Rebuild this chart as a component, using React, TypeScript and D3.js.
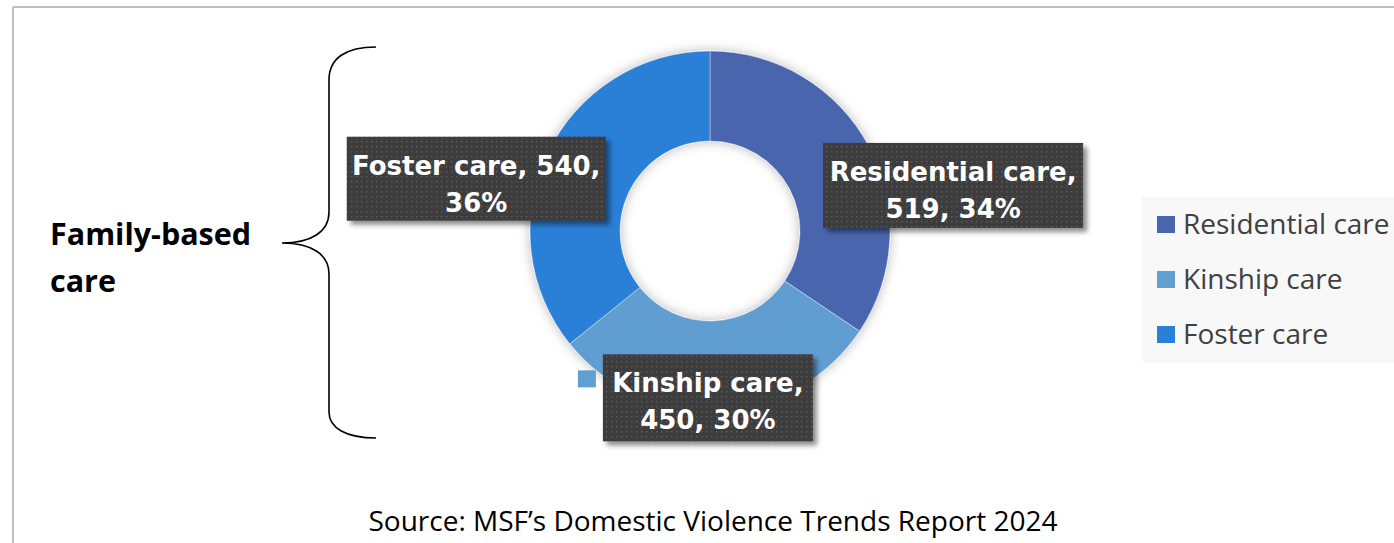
import React from "react";
import * as d3 from "d3";

const categories = ["Residential care", "Kinship care", "Foster care"];
const values = [519, 450, 540];
const colors = ["#4865ad", "#619ed2", "#2a7fd6"];
// number of words on the first line of each data label
const labelBreaks = [2, 2, 3];
const sideLabel = ["Family-based", "care"];
const sourceText = "Source: MSF\u2019s Domestic Violence Trends Report 2024";

const W = 1394;
const H = 543;
const cx = 710;
const cy = 231;
const outerR = 180;
const innerR = 90;
// label box layout (offset from slice centroid, box size)
const labelLayout = [
  { dx: 124, dy: 18, w: 260, h: 85 },
  { dx: -8, dy: 32, w: 210, h: 87 },
  { dx: -112, dy: 6, w: 259, h: 84 },
];

export default function App() {
  const total = d3.sum(values);
  const pie = d3
    .pie<number>()
    .sort(null)
    .value((d) => d)
    .startAngle(0)
    .endAngle(Math.PI * 2);
  const arcs = pie(values);
  const arc = d3.arc<d3.PieArcDatum<number>>().innerRadius(innerR).outerRadius(outerR);
  const mid = d3
    .arc<d3.PieArcDatum<number>>()
    .innerRadius((innerR + outerR) / 2)
    .outerRadius((innerR + outerR) / 2);

  const legendX = 1142;
  const legendY = 197;

  return (
    <svg
      width={W}
      height={H}
      style={{ position: "absolute", left: 0, top: 0, background: "#fff" }}
    >
      <defs>
        <filter id="donutShadow" x="-30%" y="-30%" width="160%" height="160%">
          <feGaussianBlur in="SourceAlpha" stdDeviation="6" />
          <feOffset dx="0" dy="0" result="b" />
          <feFlood floodColor="#000" floodOpacity="0.28" />
          <feComposite in2="b" operator="in" result="s" />
          <feMerge>
            <feMergeNode in="s" />
            <feMergeNode in="SourceGraphic" />
          </feMerge>
        </filter>
        <filter id="boxShadow" x="-20%" y="-20%" width="140%" height="150%">
          <feGaussianBlur in="SourceAlpha" stdDeviation="2.5" />
          <feOffset dx="4" dy="4" result="b" />
          <feFlood floodColor="#000" floodOpacity="0.45" />
          <feComposite in2="b" operator="in" result="s" />
          <feMerge>
            <feMergeNode in="s" />
            <feMergeNode in="SourceGraphic" />
          </feMerge>
        </filter>
        <pattern id="dots" width="5" height="5" patternUnits="userSpaceOnUse">
          <rect width="5" height="5" fill="#3c3c3c" />
          <rect x="1" y="1" width="1.4" height="1.4" fill="#5e5e5e" />
        </pattern>
      </defs>

      {/* frame */}
      <line x1={13} y1={7} x2={W} y2={7} stroke="#bfbfbf" strokeWidth={2} />
      <line x1={13} y1={7} x2={13} y2={H} stroke="#bfbfbf" strokeWidth={2} />

      {/* donut */}
      <g transform={`translate(${cx},${cy})`} filter="url(#donutShadow)">
        {arcs.map((a, i) => (
          <path key={i} d={arc(a) || ""} fill={colors[i]} stroke="#ffffff" strokeWidth={0.4} />
        ))}
      </g>

      {/* data labels */}
      {arcs.map((a, i) => {
        const [mx, my] = mid.centroid(a);
        const L = labelLayout[i];
        const bx = cx + mx + L.dx - L.w / 2;
        const by = cy + my + L.dy - L.h / 2;
        const pct = Math.round((values[i] / total) * 100);
        const words = `${categories[i]}, ${values[i]}, ${pct}%`.split(" ");
        const line1 = words.slice(0, labelBreaks[i]).join(" ");
        const line2 = words.slice(labelBreaks[i]).join(" ");
        const tx = bx + L.w / 2;
        return (
          <g key={i}>
            <rect
              x={bx}
              y={by}
              width={L.w}
              height={L.h}
              fill="url(#dots)"
              filter="url(#boxShadow)"
            />
            {i === 1 && (
              <rect x={bx - 25} y={by + 16} width={18} height={17} fill={colors[i]} />
            )}
            <text
              x={tx}
              y={by + 38}
              textAnchor="middle"
              fill="#ffffff"
              fontFamily="DejaVu Sans"
              fontWeight="bold"
              fontSize={26}
            >
              {line1}
            </text>
            <text
              x={tx}
              y={by + 75}
              textAnchor="middle"
              fill="#ffffff"
              fontFamily="DejaVu Sans"
              fontWeight="bold"
              fontSize={26}
            >
              {line2}
            </text>
          </g>
        );
      })}

      {/* brace */}
      <path
        d="M376,47 C346,47 329,58 329,80 L329,212 C329,232 311,243 282,243 C311,243 329,254 329,274 L329,412 C329,428 346,438 376,438"
        fill="none"
        stroke="#000"
        strokeWidth={1.6}
      />
      {sideLabel.map((t, i) => (
        <text
          key={i}
          x={50}
          y={245 + i * 47}
          fontFamily="Open Sans"
          fontWeight="bold"
          fontSize={30.5}
          fill="#000"
        >
          {t}
        </text>
      ))}

      {/* legend */}
      <rect x={legendX} y={legendY} width={W - legendX} height={165} fill="#f8f8f8" />
      {categories.map((c, i) => (
        <g key={c}>
          <rect x={legendX + 15} y={legendY + 19 + i * 55} width={18} height={17} fill={colors[i]} />
          <text
            x={legendX + 41}
            y={legendY + 37 + i * 55}
            fontFamily="Open Sans"
            fontSize={28}
            fill="#404040"
          >
            {c}
          </text>
        </g>
      ))}

      {/* source */}
      <text
        x={713}
        y={531}
        textAnchor="middle"
        fontFamily="Open Sans"
        fontSize={28}
        fill="#000"
      >
        {sourceText}
      </text>
    </svg>
  );
}
